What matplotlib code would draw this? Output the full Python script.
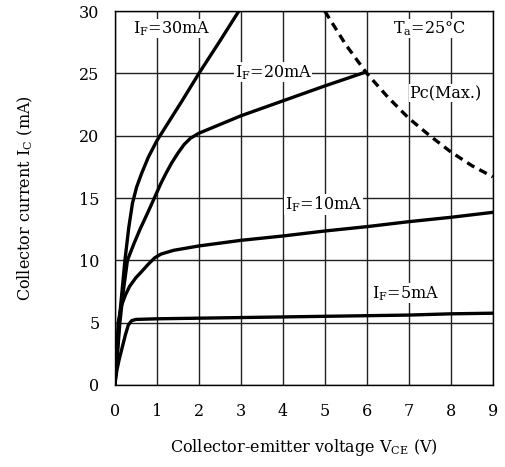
import matplotlib
matplotlib.use("Agg")
import matplotlib.pyplot as plt

plt.rcParams['font.family'] = 'DejaVu Serif'
plt.rcParams['mathtext.fontset'] = 'custom'
plt.rcParams['mathtext.rm'] = 'DejaVu Serif'

# Ic-Vce curves (V, mA)
v_30 = [0, 0.05, 0.1, 0.17, 0.24, 0.33, 0.42, 0.52, 0.64, 0.8, 1.0, 1.3, 1.6, 2.0, 2.5, 2.95]
i_30 = [0, 2.2, 5, 7.5, 10, 12.6, 14.6, 15.9, 17.0, 18.3, 19.6, 21.2, 22.8, 25, 27.6, 30]

v_20 = [0, 0.05, 0.12, 0.2, 0.3, 0.45, 0.6, 0.78, 0.94, 1.1, 1.22, 1.35, 1.5, 1.65, 1.8, 2.0, 2.5, 3.0, 3.5, 4.0, 5.0, 5.96]
i_20 = [0, 2, 5, 7.5, 10, 11.3, 12.5, 13.8, 15, 16.2, 17.0, 17.8, 18.6, 19.3, 19.8, 20.2, 20.9, 21.6, 22.2, 22.8, 24.0, 25.1]

v_10 = [0, 0.04, 0.08, 0.15, 0.25, 0.35, 0.5, 0.64, 0.8, 0.95, 1.1, 1.4, 2.0, 3, 4, 5, 6, 7, 8, 9]
i_10 = [0, 2.5, 5, 6.3, 7.2, 7.9, 8.6, 9.1, 9.7, 10.2, 10.5, 10.8, 11.15, 11.6, 11.95, 12.35, 12.7, 13.1, 13.45, 13.85]

v_5 = [0, 0.05, 0.1, 0.16, 0.25, 0.32, 0.4, 0.5, 1.0, 2, 3, 4, 5, 6, 7, 8, 9]
i_5 = [0, 1.2, 2.0, 2.8, 4.0, 4.8, 5.15, 5.25, 5.3, 5.35, 5.4, 5.45, 5.5, 5.55, 5.6, 5.7, 5.75]

# collector power dissipation limit
v_pc = [5.0, 5.5, 6.0, 6.5, 7.0, 7.5, 8.0, 8.5, 9.0]
i_pc = [30, 27.3, 25, 23.1, 21.4, 20, 18.7, 17.6, 16.7]

x_ticks = [0, 1, 2, 3, 4, 5, 6, 7, 8, 9]
y_ticks = [0, 5, 10, 15, 20, 25, 30]

fig = plt.figure(figsize=(5.06, 4.67), dpi=100)
ax = fig.add_axes([0.227, 0.176, 0.747, 0.800])

lw = 2.4
ax.plot(v_30, i_30, color='black', lw=lw, zorder=3)
ax.plot(v_20, i_20, color='black', lw=lw, zorder=3)
ax.plot(v_10, i_10, color='black', lw=lw, zorder=3)
ax.plot(v_5, i_5, color='black', lw=lw, zorder=3)
ax.plot(v_pc, i_pc, color='black', lw=lw, ls=(0, (2.5, 1.7)), zorder=3)

ax.set_xlim(0, 9)
ax.set_ylim(0, 30)
ax.set_xticks(x_ticks)
ax.set_yticks(y_ticks)
ax.grid(True, color='#222222', lw=1.0)
ax.set_axisbelow(True)
ax.tick_params(length=0, labelsize=11.5)
ax.tick_params(axis='x', pad=13)
ax.tick_params(axis='y', pad=11)
for s in ax.spines.values():
    s.set_linewidth(1.0)

box = dict(facecolor='white', edgecolor='none', pad=0.3)
ax.text(1.36, 28.6, r'I$_\mathrm{F}$=30mA', ha='center', va='center', fontsize=11.5, bbox=box, zorder=4)
ax.text(3.77, 25.1, r'I$_\mathrm{F}$=20mA', ha='center', va='center', fontsize=11.5, bbox=box, zorder=4)
ax.text(4.97, 14.5, r'I$_\mathrm{F}$=10mA', ha='center', va='center', fontsize=11.5, bbox=box, zorder=4)
ax.text(6.93, 7.35, r'I$_\mathrm{F}$=5mA', ha='center', va='center', fontsize=11.5, bbox=box, zorder=4)
ax.text(7.5, 28.6, r'T$_\mathrm{a}$=25°C', ha='center', va='center', fontsize=11.5, bbox=box, zorder=4)
ax.text(7.87, 23.4, 'Pc(Max.)', ha='center', va='center', fontsize=11.5, bbox=box, zorder=4)

ax.set_xlabel(r'Collector-emitter voltage V$_\mathrm{CE}$ (V)', fontsize=11.5, labelpad=12)
ax.set_ylabel(r'Collector current I$_\mathrm{C}$ (mA)', fontsize=11.5, labelpad=32)

fig.savefig('out.png', dpi=100)
